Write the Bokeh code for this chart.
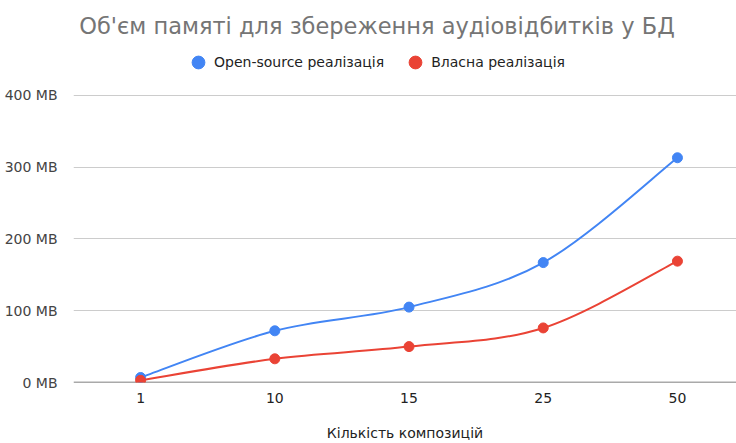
from bokeh.plotting import figure
from bokeh.models import (Range1d, FixedTicker, PrintfTickFormatter, Span, Label,
                          Legend, LegendItem)
from bokeh.embed import file_html
from bokeh.resources import INLINE

# Number of tracks stored and memory used by each implementation (MB)
counts = ["1", "10", "15", "25", "50"]
open_source_mb = [7, 72, 105, 167, 313]
own_impl_mb = [3, 33, 50, 76, 169]
y_ticks = [0, 100, 200, 300, 400]

title_text = "Об'єм памяті для збереження аудіовідбитків у БД"
series_names = ["Open-source реалізація", "Власна реалізація"]
x_title = "Кількість композицій"

BLUE = "#4285F4"
RED = "#EA4335"
FONT = "DejaVu Sans"

xs = list(range(len(counts)))


def smooth_segments(ys, t=1 / 6):
    """Cubic Bezier control points (Catmull-Rom style) through the points."""
    n = len(ys)
    seg = dict(x0=[], y0=[], x1=[], y1=[], cx0=[], cy0=[], cx1=[], cy1=[])
    for i in range(n - 1):
        prev = max(i - 1, 0)
        nxt = min(i + 2, n - 1)
        seg["x0"].append(xs[i]); seg["y0"].append(ys[i])
        seg["x1"].append(xs[i + 1]); seg["y1"].append(ys[i + 1])
        seg["cx0"].append(xs[i] + (xs[i + 1] - xs[prev]) * t)
        seg["cy0"].append(ys[i] + (ys[i + 1] - ys[prev]) * t)
        seg["cx1"].append(xs[i + 1] - (xs[nxt] - xs[i]) * t)
        seg["cy1"].append(ys[i + 1] - (ys[nxt] - ys[i]) * t)
    return seg


# The plotting frame spans the full height; the space above 400 MB holds
# the title and legend.
p = figure(width=736, height=443, output_backend="svg", toolbar_location=None,
           x_range=Range1d(-0.5, 4.44), y_range=Range1d(0, 532),
           min_border_left=73, min_border_right=0, min_border_top=0,
           min_border_bottom=61)
p.outline_line_color = None
p.background_fill_color = "white"
p.border_fill_color = "white"

# grid and axes
p.xgrid.visible = False
p.ygrid.ticker = FixedTicker(ticks=y_ticks)
p.ygrid.grid_line_color = "#cccccc"
p.ygrid.grid_line_width = 1

p.yaxis.ticker = FixedTicker(ticks=y_ticks)
p.yaxis.formatter = PrintfTickFormatter(format="%d MB")
p.yaxis.axis_line_color = None
p.yaxis.major_tick_line_color = None
p.yaxis.minor_tick_line_color = None
p.yaxis.major_label_standoff = 10
p.yaxis.major_label_text_font = FONT
p.yaxis.major_label_text_font_size = "14px"
p.yaxis.major_label_text_color = "#444444"

p.xaxis.ticker = FixedTicker(ticks=xs)
p.xaxis.major_label_overrides = {i: c for i, c in zip(xs, counts)}
p.xaxis.axis_line_color = None
p.xaxis.major_tick_line_color = None
p.xaxis.minor_tick_line_color = None
p.xaxis.major_label_standoff = 4
p.xaxis.major_label_text_font = FONT
p.xaxis.major_label_text_font_size = "14px"
p.xaxis.major_label_text_color = "#222222"
p.xaxis.axis_label = x_title
p.xaxis.axis_label_text_font = FONT
p.xaxis.axis_label_text_font_size = "14px"
p.xaxis.axis_label_text_font_style = "normal"
p.xaxis.axis_label_text_color = "#222222"
p.xaxis.axis_label_standoff = 19

baseline = Span(location=0, dimension="width", line_color="#555555",
                line_width=1.5, level="underlay")
p.add_layout(baseline)

# smoothed series lines with point markers
blue_seg = smooth_segments(open_source_mb)
red_seg = smooth_segments(own_impl_mb)
p.bezier(source=blue_seg, x0="x0", y0="y0", x1="x1", y1="y1",
         cx0="cx0", cy0="cy0", cx1="cx1", cy1="cy1",
         line_color=BLUE, line_width=2)
p.bezier(source=red_seg, x0="x0", y0="y0", x1="x1", y1="y1",
         cx0="cx0", cy0="cy0", cx1="cx1", cy1="cy1",
         line_color=RED, line_width=2)
blue_pts = p.scatter(xs, open_source_mb, size=10, color=BLUE)
red_pts = p.scatter(xs, own_impl_mb, size=10, color=RED)

legend = Legend(
    items=[LegendItem(label=series_names[0], renderers=[blue_pts]),
           LegendItem(label=series_names[1], renderers=[red_pts])],
    orientation="horizontal", location=(109, 304),
    glyph_width=32, glyph_height=32, label_standoff=0, spacing=15,
    padding=0, margin=0, border_line_color=None, background_fill_alpha=0,
    label_text_font=FONT, label_text_font_size="14px",
    label_text_color="#222222")
p.add_layout(legend)

title = Label(x=303.5, y=356.5, x_units="screen", y_units="screen", text=title_text,
              text_align="center", text_baseline="middle", text_font=FONT,
              text_font_size="22.5px", text_color="#757575")
p.add_layout(title)

open("out.html", "w").write(file_html(p, INLINE))
